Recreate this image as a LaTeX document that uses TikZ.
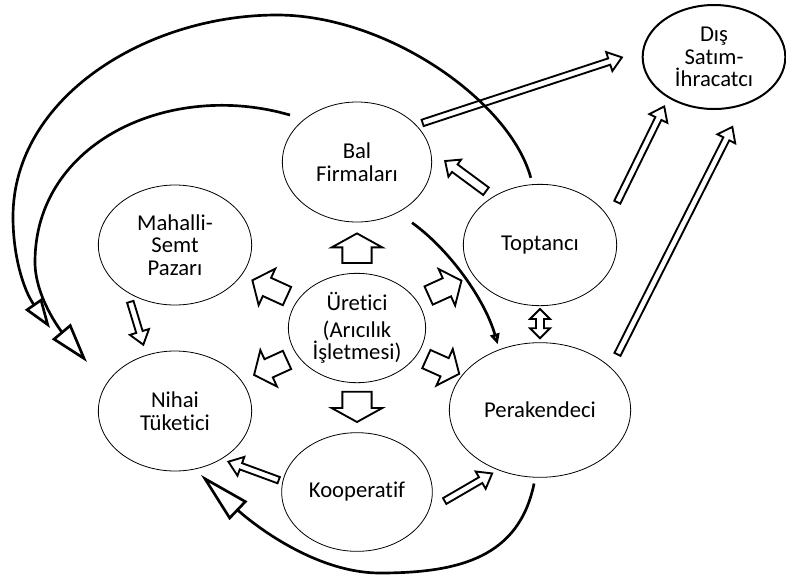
\documentclass[tikz,border=0pt]{standalone}
\usepackage{fontspec}
\setmainfont{Carlito}[Ligatures=NoCommon]
\usepackage{tikz}
\usetikzlibrary{calc}
\usetikzlibrary{shapes.geometric}
\usetikzlibrary{arrows.meta}

\tikzset{
  ga/.store in=\ga, gb/.store in=\gb, ga=2pt, gb=2pt,
  stage/.style={ellipse, draw, line width=0.6pt, fill=white, align=center,
    inner sep=0pt, font=\fontsize{17}{17}\selectfont},
  % hollow block arrow: shaft half width, head half width, head length
  blockarr/.style n args={3}{line width=1.4pt, line join=miter, fill=white,
    to path={
      coordinate (a0) at ($(\tikztostart)!\ga!(\tikztotarget)$)
      coordinate (a1) at ($(\tikztotarget)!\gb!(\tikztostart)$)
      coordinate (a2) at ($(a1)!#3!(a0)$)
      ($(a0)!#1!90:(a1)$) -- ($(a2)!#1!-90:(a0)$) -- ($(a2)!#2!-90:(a0)$) -- (a1)
      -- ($(a2)!#2!90:(a0)$) -- ($(a2)!#1!90:(a0)$) -- ($(a0)!#1!-90:(a1)$) -- cycle}},
  dblarr/.style n args={3}{line width=1.4pt, line join=miter, fill=white,
    to path={
      coordinate (a0) at ($(\tikztostart)!\ga!(\tikztotarget)$)
      coordinate (a1) at ($(\tikztotarget)!\gb!(\tikztostart)$)
      coordinate (a2) at ($(a1)!#3!(a0)$)
      coordinate (a3) at ($(a0)!#3!(a1)$)
      (a0) -- ($(a3)!#2!90:(a1)$) -- ($(a3)!#1!90:(a1)$) -- ($(a2)!#1!-90:(a0)$)
      -- ($(a2)!#2!-90:(a0)$) -- (a1) -- ($(a2)!#2!90:(a0)$) -- ($(a2)!#1!90:(a0)$)
      -- ($(a3)!#1!-90:(a1)$) -- ($(a3)!#2!-90:(a1)$) -- cycle}},
  thinarr/.style={blockarr={2.5pt}{7.5pt}{10pt}},
  fatarr/.style={blockarr={11pt}{19pt}{10.5pt}},
  midarr/.style={blockarr={7.5pt}{15pt}{12pt}},
  flow/.style={line width=2pt}
}

\begin{document}
\begin{tikzpicture}[x=0.75pt, y=-0.75pt]
    \useasboundingbox (0,0) rectangle (786,576);

    % Centres of the stages
    \coordinate (Cbal) at (357,162);
    \coordinate (Cmah) at (175,245);
    \coordinate (Cure) at (357,328);
    \coordinate (Ctop) at (540,245);
    \coordinate (Cnih) at (175,411);
    \coordinate (Cper) at (540,410);
    \coordinate (Ckoo) at (357,492);
    \coordinate (Cdis) at (714,57);

    % Free ends of the long curves
    \coordinate (outerTip) at (50,328);
    \coordinate (innerTip) at (87,362);

    % Draw the stages
    \node[stage, minimum width=112pt, minimum height=90pt] (bal) at (Cbal) {Bal\\Firmaları};
    \node[stage, minimum width=115pt, minimum height=90pt] (mah) at (Cmah) {Mahalli-\\Semt\\Pazarı};
    \node[stage, minimum width=103pt, minimum height=82pt] (ure) at (Cure) {Üretici\\[3pt](Arıcılık\\İşletmesi)};
    \node[stage, minimum width=115pt, minimum height=91pt] (top) at (Ctop) {Toptancı};
    \node[stage, minimum width=115pt, minimum height=90pt] (nih) at (Cnih) {Nihai\\Tüketici};
    \node[stage, minimum width=136pt, minimum height=101pt] (per) at (Cper) {Perakendeci};
    \node[stage, minimum width=113pt, minimum height=89pt] (koo) at (Ckoo) {Kooperatif};
    \node[stage, line width=1.5pt, minimum width=107pt, minimum height=78pt] (dis) at (Cdis) {Dış\\Satım-\\İhracatcı};

    % Block arrows out of the producer
    \draw[fatarr, ga=7.5pt, gb=8.25pt] (ure.90) to (bal.270);
    \draw[fatarr, ga=6.5pt, gb=7.7pt] (ure.270) to (koo.90);
    \draw[midarr, ga=57.7pt, gb=63.8pt] (ure) to (mah);
    \draw[midarr, ga=59pt, gb=64.7pt] (ure) to (top);
    \draw[midarr, ga=57.7pt, gb=65.2pt] (ure) to (nih);
    \draw[midarr, ga=57pt, gb=66.4pt] (ure) to (per);

    % Thin block arrows
    \draw[thinarr, ga=5pt, gb=16pt] (bal.32) to (dis.175);
    \draw[thinarr, ga=13.5pt, gb=7pt] (top.21) to (dis.222);
    \draw[thinarr, ga=11pt, gb=18pt] (per.31) to (dis.301);
    \draw[blockarr={3.5pt}{8pt}{9pt}, ga=6.7pt, gb=13.5pt] (top.134) to (bal.9);
    \draw[dblarr={3pt}{7.5pt}{7.5pt}, ga=2.2pt, gb=3pt] (top.270) to (per.90);
    \draw[thinarr, ga=7.3pt, gb=8pt] (mah.225) to (nih.117);
    \draw[thinarr, ga=3pt, gb=5.5pt] (koo.172) to (nih.314);
    \draw[thinarr, ga=13.4pt, gb=5pt] (koo.346) to (per.235);

    % Long curved arrows
    \draw[flow, shorten <=5pt, -{Triangle[open, length=22pt, width=15pt]}]
        (top.97) .. controls (510,101) and (387,15) .. (277,15)
        .. controls (147,15) and (13,97) .. (13,217)
        .. controls (13,255) and (23,289) .. (outerTip);
    \draw[flow, shorten <=11pt, -{Triangle[open, length=30pt, width=18pt]}]
        (bal.141) .. controls (170,80) and (35,142) .. (35,262)
        .. controls (35,297) and (61,331) .. (innerTip);
    \draw[flow, shorten <=13pt, shorten >=4pt, -{Triangle[open, length=8pt, width=7pt]}]
        (bal.309) .. controls (450,250) and (485,300) .. (per.124);
    \draw[flow, shorten <=4.5pt, shorten >=6pt, -{Triangle[open, length=39pt, width=19pt]}]
        (per.266) .. controls (519,557) and (460,573) .. (380,573)
        .. controls (310,573) and (244,516) .. (nih.289);

\end{tikzpicture}
\end{document}
